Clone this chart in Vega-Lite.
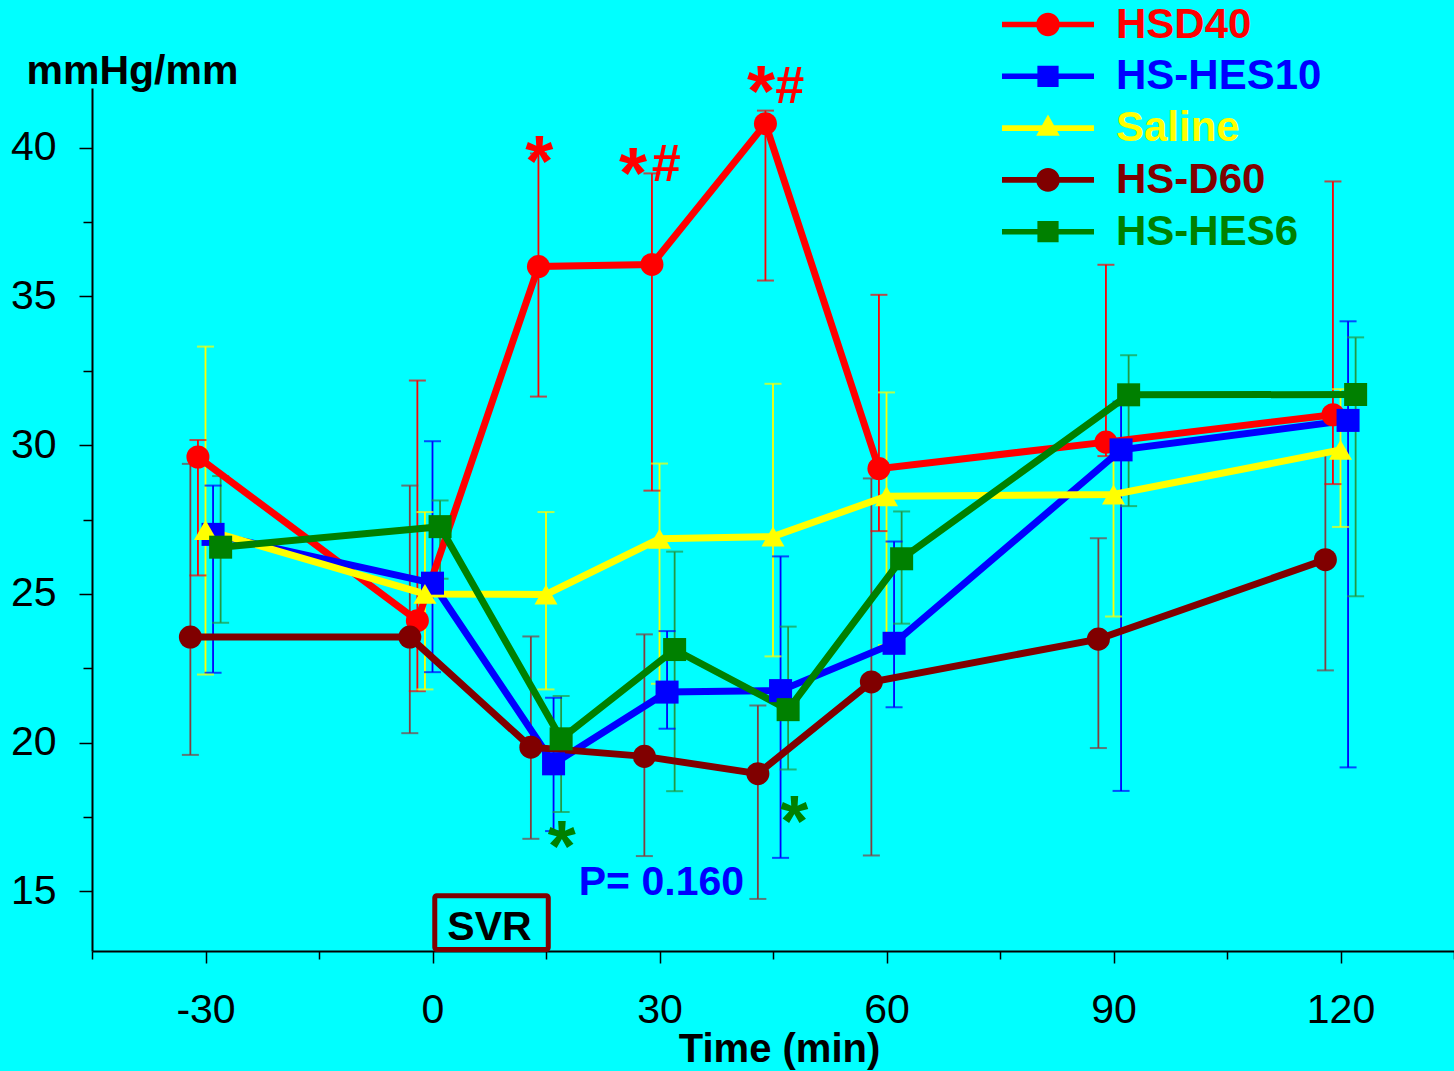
{
  "$schema": "https://vega.github.io/schema/vega-lite/v6.json",
  "width": 1362,
  "height": 863,
  "autosize": {"type": "none"},
  "padding": {"left": 92, "top": 88, "right": 0, "bottom": 120},
  "background": "#00FFFF",
  "config": {
    "view": {"stroke": null},
    "legend": {"disable": true},
    "font": "Liberation Sans"
  },
  "datasets": {
    "pts": [
      {"series": "HSD40", "t": -31, "y": 29.6, "lo": 25.62, "hi": 30.17},
      {"series": "HSD40", "t": -2, "y": 24.1, "lo": 21.73, "hi": 32.17},
      {"series": "HSD40", "t": 14, "y": 36.0, "lo": 31.63, "hi": 39.8},
      {"series": "HSD40", "t": 29, "y": 36.07, "lo": 28.47, "hi": 39.13},
      {"series": "HSD40", "t": 44, "y": 40.8, "lo": 35.53, "hi": 41.24},
      {"series": "HSD40", "t": 59, "y": 29.21, "lo": 27.11, "hi": 35.05},
      {"series": "HSD40", "t": 89, "y": 30.1, "lo": 29.63, "hi": 36.06},
      {"series": "HSD40", "t": 119, "y": 31.02, "lo": 28.69, "hi": 38.86},
      {"series": "HS-HES10", "t": -29, "y": 27.0, "lo": 22.35, "hi": 28.64},
      {"series": "HS-HES10", "t": 0, "y": 25.36, "lo": 22.37, "hi": 30.13},
      {"series": "HS-HES10", "t": 16, "y": 19.29, "lo": 17.03, "hi": 21.51},
      {"series": "HS-HES10", "t": 31, "y": 21.7, "lo": 20.47, "hi": 23.75},
      {"series": "HS-HES10", "t": 46, "y": 21.75, "lo": 16.13, "hi": 26.26},
      {"series": "HS-HES10", "t": 61, "y": 23.34, "lo": 21.19, "hi": 26.76},
      {"series": "HS-HES10", "t": 91, "y": 29.84, "lo": 18.38, "hi": 31.46},
      {"series": "HS-HES10", "t": 121, "y": 30.83, "lo": 19.17, "hi": 34.16},
      {"series": "Saline", "t": -30, "y": 27.15, "lo": 22.29, "hi": 33.31},
      {"series": "Saline", "t": -1, "y": 25.0, "lo": 21.79, "hi": 27.75},
      {"series": "Saline", "t": 15, "y": 24.98, "lo": 21.79, "hi": 27.75},
      {"series": "Saline", "t": 30, "y": 26.85, "lo": 21.98, "hi": 29.38},
      {"series": "Saline", "t": 45, "y": 26.93, "lo": 22.9, "hi": 32.06},
      {"series": "Saline", "t": 60, "y": 28.28, "lo": 23.28, "hi": 31.77},
      {"series": "Saline", "t": 90, "y": 28.34, "lo": 24.24, "hi": 29.87},
      {"series": "Saline", "t": 120, "y": 29.84, "lo": 27.25, "hi": 31.88},
      {"series": "HS-D60", "t": -32, "y": 23.55, "lo": 19.59, "hi": 29.37},
      {"series": "HS-D60", "t": -3, "y": 23.55, "lo": 20.32, "hi": 28.64},
      {"series": "HS-D60", "t": 13, "y": 19.85, "lo": 16.77, "hi": 23.57},
      {"series": "HS-D60", "t": 28, "y": 19.54, "lo": 16.19, "hi": 23.64},
      {"series": "HS-D60", "t": 43, "y": 18.96, "lo": 14.75, "hi": 21.25},
      {"series": "HS-D60", "t": 58, "y": 22.04, "lo": 16.21, "hi": 28.88},
      {"series": "HS-D60", "t": 88, "y": 23.48, "lo": 19.82, "hi": 26.87},
      {"series": "HS-D60", "t": 118, "y": 26.15, "lo": 22.43, "hi": 29.72},
      {"series": "HS-HES6", "t": -28, "y": 26.57, "lo": 24.03, "hi": 28.96},
      {"series": "HS-HES6", "t": 1, "y": 27.26, "lo": 25.51, "hi": 28.14},
      {"series": "HS-HES6", "t": 17, "y": 20.13, "lo": 17.67, "hi": 21.57},
      {"series": "HS-HES6", "t": 32, "y": 23.13, "lo": 18.37, "hi": 26.42},
      {"series": "HS-HES6", "t": 47, "y": 21.11, "lo": 19.1, "hi": 23.9},
      {"series": "HS-HES6", "t": 62, "y": 26.18, "lo": 24.0, "hi": 27.77},
      {"series": "HS-HES6", "t": 92, "y": 31.69, "lo": 27.95, "hi": 33.02},
      {"series": "HS-HES6", "t": 122, "y": 31.7, "lo": 24.92, "hi": 33.62}
    ],
    "stars": [
      {"series": "HSD40", "t": 14.1, "y": 38.71},
      {"series": "HSD40", "t": 26.5, "y": 38.3},
      {"series": "HSD40", "t": 43.4, "y": 41.05},
      {"series": "HS-HES6", "t": 17.1, "y": 15.68},
      {"series": "HS-HES6", "t": 47.8, "y": 16.52}
    ],
    "hashes": [
      {"t": 30.9, "y": 38.89},
      {"t": 47.2, "y": 41.5}
    ],
    "pnote": [
      {"t": 30.25, "y": 14.89, "label": "P= 0.160"}
    ],
    "svr": [
      {"t0": 0.3, "t1": 15.3, "y0": 13.05, "y1": 14.86, "tc": 7.53, "yc": 13.38, "label": "SVR"}
    ]
  },
  "layer": [
    {
      "data": {"name": "pts"},
      "mark": {"type": "rule", "strokeWidth": 1.8},
      "encoding": {
        "x": {
          "field": "t", "type": "quantitative",
          "scale": {"domain": [-45, 135], "nice": false, "zero": false},
          "axis": {
            "title": "Time (min)",
            "values": [-45, -30, -15, 0, 15, 30, 45, 60, 75, 90, 105, 120, 135],
            "labelExpr": "datum.value % 30 === 0 ? '' + datum.value : ''",
            "labelFont": "Liberation Sans",
            "labelFontSize": 41,
            "labelColor": "black",
            "labelBaseline": "alphabetic",
            "labelPadding": 59,
            "labelFlush": false,
            "labelOverlap": false,
            "tickSize": {"condition": {"test": "datum.value % 30 === 0", "value": 12}, "value": 8},
            "tickColor": "black",
            "tickWidth": 1.5,
            "domainColor": "black",
            "domainWidth": 2,
            "grid": false,
            "titleFont": "Liberation Sans",
            "titleFontSize": 40,
            "titleFontWeight": "bold",
            "titleColor": "black",
            "titleX": 687,
            "titleY": 110,
            "titleBaseline": "alphabetic",
            "titleAlign": "center"
          }
        },
        "y": {
          "field": "lo", "type": "quantitative",
          "scale": {"domain": [13, 42], "nice": false, "zero": false},
          "axis": {
            "title": "mmHg/mm",
            "values": [15, 17.5, 20, 22.5, 25, 27.5, 30, 32.5, 35, 37.5, 40],
            "labelExpr": "datum.value % 5 === 0 ? '' + datum.value : ''",
            "labelFont": "Liberation Sans",
            "labelFontSize": 41,
            "labelColor": "black",
            "labelPadding": 23,
            "labelOverlap": false,
            "tickSize": {"condition": {"test": "datum.value % 5 === 0", "value": 13}, "value": 9},
            "tickColor": "black",
            "tickWidth": 1.5,
            "domainColor": "black",
            "domainWidth": 2,
            "grid": false,
            "titleFont": "Liberation Sans",
            "titleFontSize": 41,
            "titleFontWeight": "bold",
            "titleColor": "black",
            "titleAngle": 0,
            "titleAlign": "left",
            "titleBaseline": "alphabetic",
            "titleX": -66,
            "titleY": -5
          }
        },
        "y2": {"field": "hi"},
        "stroke": {
          "field": "series", "type": "nominal",
          "scale": {"domain": ["HS-D60", "HS-HES10", "HS-HES6", "HSD40", "Saline"], "range": ["#804040", "#0000FF", "#229944", "#FF0000", "#FFFF00"]}
        }
      }
    },
    {
      "data": {"name": "pts"},
      "mark": {"type": "tick", "orient": "horizontal", "size": 17, "thickness": 2},
      "encoding": {
        "x": {"field": "t", "type": "quantitative"},
        "y": {"field": "lo", "type": "quantitative"},
        "fill": {
          "field": "series", "type": "nominal",
          "scale": {"domain": ["HS-D60", "HS-HES10", "HS-HES6", "HSD40", "Saline"], "range": ["#804040", "#0000FF", "#229944", "#FF0000", "#FFFF00"]}
        }
      }
    },
    {
      "data": {"name": "pts"},
      "mark": {"type": "tick", "orient": "horizontal", "size": 17, "thickness": 2},
      "encoding": {
        "x": {"field": "t", "type": "quantitative"},
        "y": {"field": "hi", "type": "quantitative"},
        "fill": {"field": "series", "type": "nominal"}
      }
    },
    {
      "data": {"name": "pts"},
      "mark": {"type": "line", "strokeWidth": 7},
      "encoding": {
        "x": {"field": "t", "type": "quantitative"},
        "y": {"field": "y", "type": "quantitative"},
        "color": {
          "field": "series", "type": "nominal",
          "scale": {"domain": ["HSD40", "HS-HES10", "Saline", "HS-D60", "HS-HES6"], "range": ["#FF0000", "#0000FF", "#FFFF00", "#800000", "#008000"]}
        }
      }
    },
    {
      "data": {"name": "pts"},
      "mark": {"type": "point", "filled": true, "size": 530, "opacity": 1},
      "encoding": {
        "x": {"field": "t", "type": "quantitative"},
        "y": {"field": "y", "type": "quantitative"},
        "color": {
          "field": "series", "type": "nominal",
          "legend": {
            "orient": "none",
            "legendX": 935,
            "legendY": -84.5,
            "title": null,
            "padding": 0,
            "symbolSize": 1600,
            "symbolStrokeWidth": 0,
            "symbolOpacity": 1,
            "symbolType": {"expr": "datum.value === 'HS-HES10' || datum.value === 'HS-HES6' ? 'M-2.3,-0.14H2.3V0.14H-2.3Z M-0.53,-0.53H0.53V0.53H-0.53Z' : (datum.value === 'Saline' ? 'M-2.3,-0.14H2.3V0.14H-2.3Z M0,-0.68L0.59,0.38H-0.59Z' : 'M-2.3,-0.14H2.3V0.14H-2.3Z M0.59,0A0.59,0.59 0 1,1 -0.59,0A0.59,0.59 0 1,1 0.59,0Z')"},
            "labelColor": {"expr": "scale('color', datum.value)"},
            "labelFont": "Liberation Sans",
            "labelFontSize": 42,
            "labelFontWeight": "bold",
            "labelOffset": 47,
            "labelLimit": 500,
            "labelBaseline": "middle",
            "rowPadding": 9.8
          }
        },
        "shape": {
          "field": "series", "type": "nominal",
          "scale": {"domain": ["HS-D60", "HS-HES10", "HS-HES6", "HSD40", "Saline"], "range": ["circle", "square", "square", "circle", "triangle-up"]}
        }
      }
    },
    {
      "data": {"name": "stars"},
      "mark": {"type": "text", "text": "*", "fontSize": 72, "fontWeight": "bold", "font": "Liberation Sans", "align": "center", "baseline": "alphabetic"},
      "encoding": {
        "x": {"field": "t", "type": "quantitative"},
        "y": {"field": "y", "type": "quantitative"},
        "color": {"field": "series", "type": "nominal"}
      }
    },
    {
      "data": {"name": "hashes"},
      "mark": {"type": "text", "text": "#", "fontSize": 52, "fontWeight": "bold", "font": "Liberation Sans", "align": "center", "baseline": "alphabetic", "color": "#FF0000"},
      "encoding": {
        "x": {"field": "t", "type": "quantitative"},
        "y": {"field": "y", "type": "quantitative"}
      }
    },
    {
      "data": {"name": "pnote"},
      "mark": {"type": "text", "fontSize": 41, "fontWeight": "bold", "font": "Liberation Sans", "align": "center", "baseline": "alphabetic", "color": "#0000FF"},
      "encoding": {
        "x": {"field": "t", "type": "quantitative"},
        "y": {"field": "y", "type": "quantitative"},
        "text": {"field": "label"}
      }
    },
    {
      "data": {"name": "svr"},
      "mark": {"type": "rect", "filled": false, "stroke": "#800000", "strokeWidth": 5, "cornerRadius": 2},
      "encoding": {
        "x": {"field": "t0", "type": "quantitative"},
        "x2": {"field": "t1"},
        "y": {"field": "y0", "type": "quantitative"},
        "y2": {"field": "y1"}
      }
    },
    {
      "data": {"name": "svr"},
      "mark": {"type": "text", "fontSize": 41, "fontWeight": "bold", "font": "Liberation Sans", "align": "center", "baseline": "alphabetic", "color": "black"},
      "encoding": {
        "x": {"field": "tc", "type": "quantitative"},
        "y": {"field": "yc", "type": "quantitative"},
        "text": {"field": "label"}
      }
    }
  ]
}
